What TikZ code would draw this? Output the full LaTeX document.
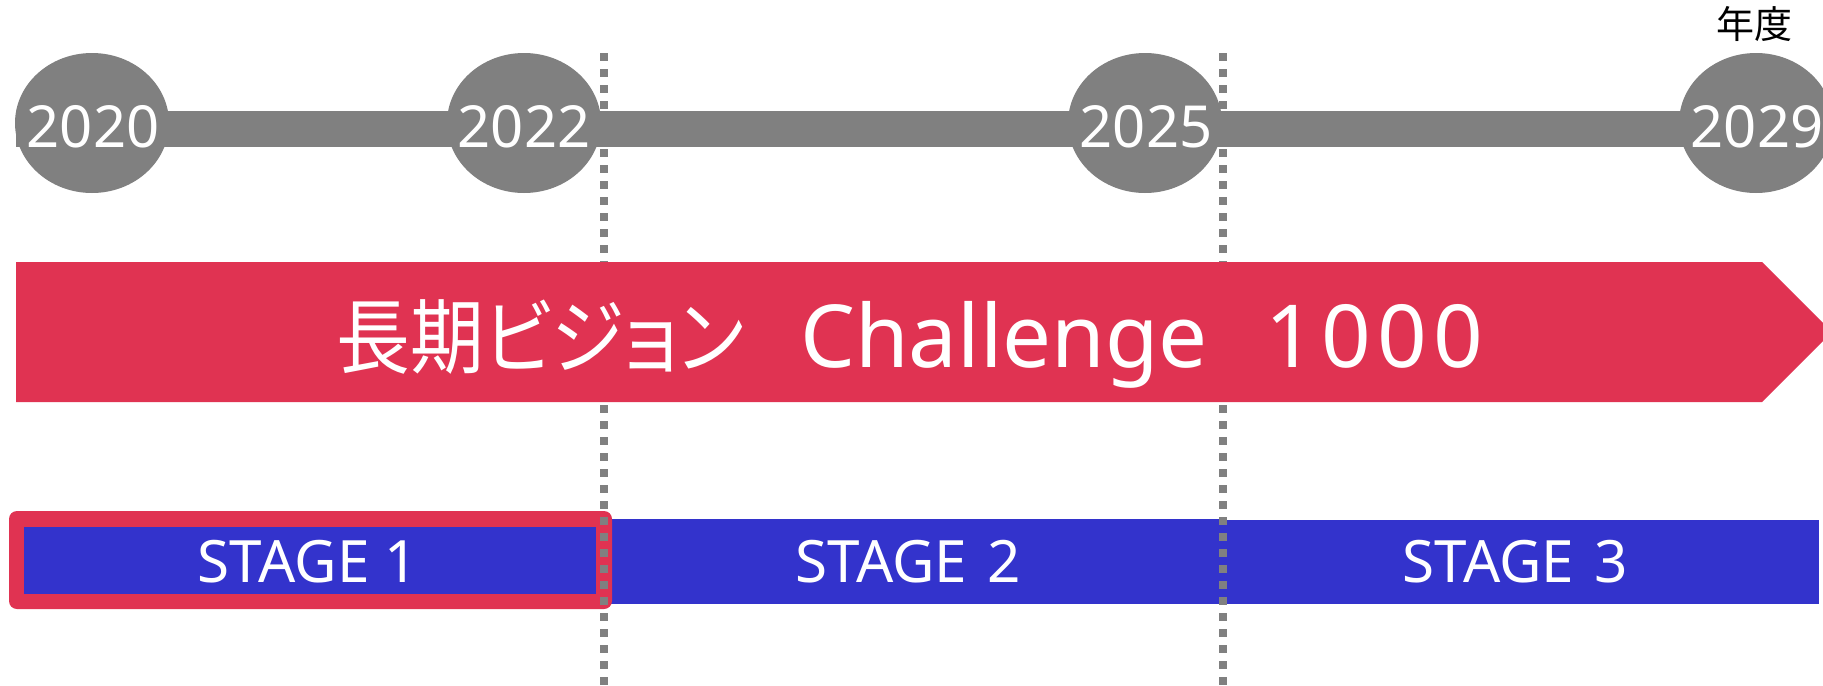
\documentclass[tikz,border=0pt]{standalone}
\usepackage{fontspec}
\setmainfont{Noto Sans}
\newfontfamily\jp[RawFeature=+palt]{Noto Sans CJK JP}
\definecolor{tlgray}{RGB}{128,128,128}
\definecolor{vred}{RGB}{224,51,82}
\definecolor{sblue}{RGB}{51,51,204}
\usetikzlibrary{shapes.geometric}
\tikzset{
  yearball/.style={ellipse, fill=tlgray, minimum width=77pt, minimum height=70pt, inner sep=0pt},
  yeartext/.style={text=white, anchor=base, inner sep=0pt, font=\fontsize{29}{34}\selectfont},
  stagetext/.style={text=white, anchor=base, inner sep=0pt, font=\fontsize{29.2}{34}\selectfont},
  divider/.style={draw=tlgray, line width=3.8pt, dash pattern=on 3.9pt off 4.1pt},
}
\begin{document}
\begin{tikzpicture}[x=0.5pt,y=-0.5pt]
\clip (0,0) rectangle (1823,685);
\fill[white] (0,0) rectangle (1823,685);
% stages
\fill[sblue] (611,519) rectangle (1224,604);
\fill[sblue] (1223,520) rectangle (1819,604);
\fill[vred, rounded corners=4pt] (9,511) rectangle (612,609);
\fill[sblue] (24,527) rectangle (596,594);
% dividers
\coordinate (d1top) at (604,53);
\coordinate (d1bot) at (604,690);
\coordinate (d2top) at (1223,53);
\coordinate (d2bot) at (1223,690);
\draw[divider] (d1top) -- (d1bot);
\draw[divider] (d2top) -- (d2bot);
% banner
\fill[vred] (16,262) -- (1762,262) -- (1832,332) -- (1762,402) -- (16,402) -- cycle;
% timeline
\fill[tlgray] (16,111) rectangle (1823,147);
\node[yearball] (b2020) at (92,123) {};
\node[yearball] (b2022) at (524,123) {};
\node[yearball] (b2025) at (1145,123) {};
\node[yearball] (b2029) at (1756,123) {};
\node[yeartext] (t2020) at (93,147) {2020};
\node[yeartext] (t2022) at (524,147) {2022};
\node[yeartext] (t2025) at (1146,147) {2025};
\node[yeartext] (t2029) at (1757,147) {2029};
\node[anchor=base, inner sep=0pt, font=\jp\fontsize{19}{22}\selectfont] (unit) at (1754,38) {年度};
% banner text
\node[anchor=base west, inner sep=0pt, text=white] (vision) at (336,367)
  {\scalebox{0.9}[1]{\jp\fontsize{41}{48}\selectfont 長期ビジョン}\hspace{28pt}{\fontsize{43.5}{50}\selectfont Challenge\hspace{29pt}1\hspace{3pt}0\hspace{3pt}0\hspace{3pt}0}};
% stage texts
\node[stagetext] (s1) at (308,582) {STAGE 1};
\node[stagetext] (s2) at (908,582) {STAGE\hspace{10pt}2};
\node[stagetext] (s3) at (1515,582) {STAGE\hspace{10pt}3};
\end{tikzpicture}
\end{document}
